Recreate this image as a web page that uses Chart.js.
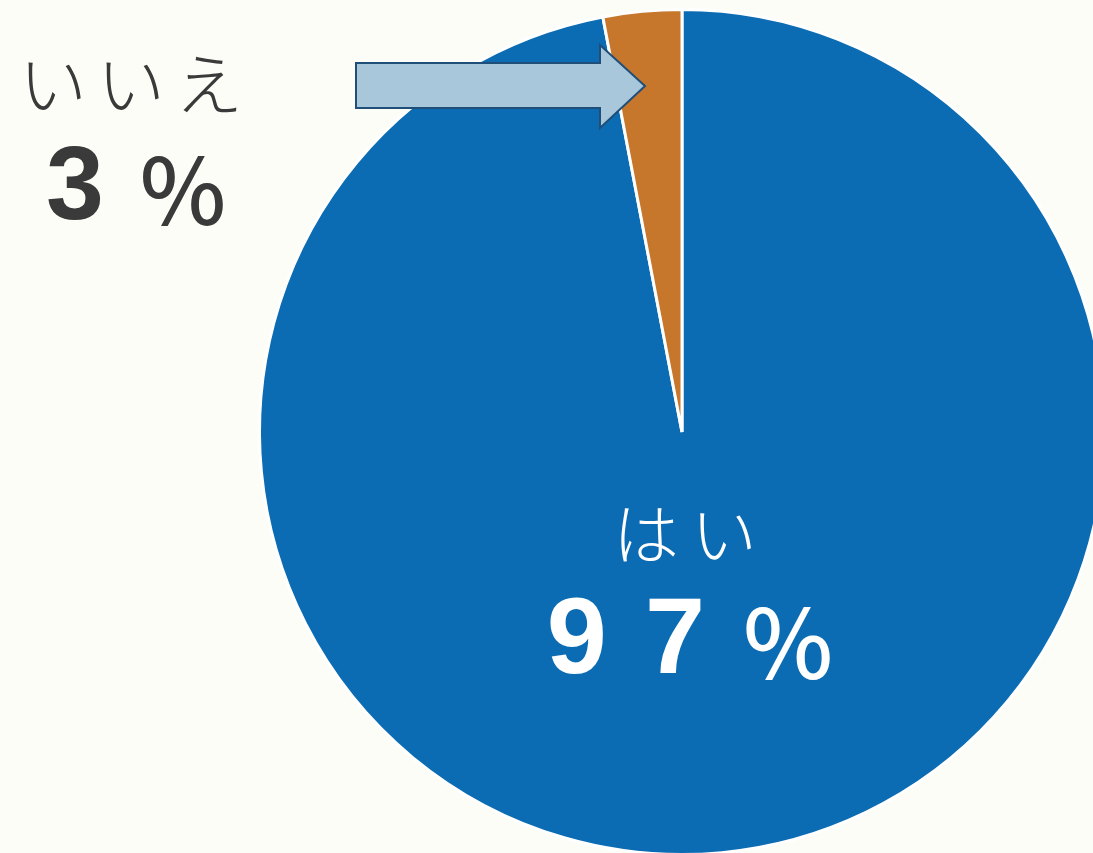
<!DOCTYPE html>
<html>
<head>
<meta charset="utf-8">
<script src="https://cdn.jsdelivr.net/npm/chart.js@4.4.1/dist/chart.umd.min.js"></script>
<style>
  html, body { margin: 0; padding: 0; overflow: hidden; background: #fdfdf7; width: 1093px; height: 853px; }
  #wrap { position: absolute; left: 0; top: 0; width: 1364px; height: 864px; }
</style>
</head>
<body>
<div id="wrap"><canvas id="pie"></canvas></div>
<script>
const labels = ['はい', 'いいえ'];
const values = [97, 3];
const colors = ['#0b6cb3', '#c6772c'];

// draws text one char at a time with extra gaps, % sign in a thinner font
function spaced(ctx, text, cx, cy, gap, font, pctFont) {
  const chars = Array.from(text);
  const fontOf = c => (c === '%' && pctFont) ? pctFont : font;
  const widths = chars.map(c => { ctx.font = fontOf(c); return ctx.measureText(c).width; });
  const total = widths.reduce((a, b) => a + b, 0) + gap * (chars.length - 1);
  let x = cx - total / 2;
  ctx.textAlign = 'left';
  chars.forEach((c, i) => {
    ctx.font = fontOf(c);
    ctx.fillText(c, x, cy);
    x += widths[i] + gap;
  });
}

const labelPlugin = {
  id: 'labels',
  afterDraw(chart) {
    const ctx = chart.ctx;
    ctx.save();
    ctx.textBaseline = 'middle';

    // arrow pointing at small slice
    ctx.beginPath();
    ctx.moveTo(356, 63);
    ctx.lineTo(600, 63);
    ctx.lineTo(600, 45);
    ctx.lineTo(645, 86);
    ctx.lineTo(600, 128);
    ctx.lineTo(600, 108);
    ctx.lineTo(356, 108);
    ctx.closePath();
    ctx.fillStyle = '#a8c7db';
    ctx.fill();
    ctx.lineWidth = 2;
    ctx.strokeStyle = '#1f4e78';
    ctx.stroke();

    // いいえ
    ctx.fillStyle = '#3a3a3a';
    spaced(ctx, labels[1], 131, 84, 10, '300 68px "Noto Sans CJK JP"');
    spaced(ctx, values[1] + '%', 136, 190, 36, 'bold 104px "Liberation Sans"', '500 92px "Noto Sans CJK JP"');

    // はい
    ctx.fillStyle = '#ffffff';
    spaced(ctx, labels[0], 685, 534, 12, '300 66px "Noto Sans CJK JP"');
    spaced(ctx, values[0] + '%', 690, 643, 38, 'bold 108px "Liberation Sans"', '500 96px "Noto Sans CJK JP"');

    ctx.restore();
  }
};

new Chart(document.getElementById('pie'), {
  type: 'pie',
  data: {
    labels: labels,
    datasets: [{
      data: values,
      backgroundColor: colors,
      borderColor: '#ffffff',
      borderWidth: 3
    }]
  },
  options: {
    responsive: true,
    maintainAspectRatio: false,
    animation: false,
    layout: { padding: { top: 8, bottom: 8 } },
    plugins: {
      legend: { display: false },
      tooltip: { enabled: false }
    }
  },
  plugins: [labelPlugin]
});
</script>
</body>
</html>
